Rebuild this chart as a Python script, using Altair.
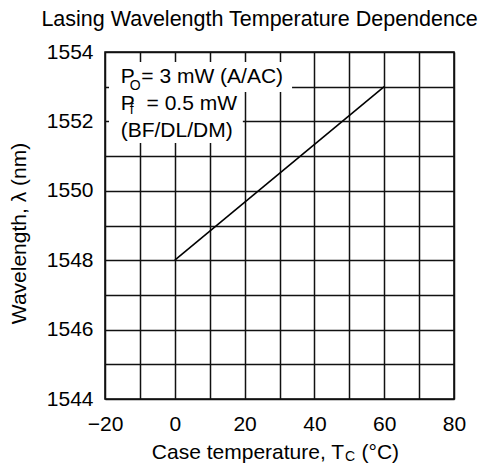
import altair as alt
import pandas as pd

# ---- data ----
temps = [0, 60]
wavelengths = [1548, 1553]

x_grid = [-20, -10, 0, 10, 20, 30, 40, 50, 60, 70, 80]
y_grid = [1544, 1545, 1546, 1547, 1548, 1549, 1550, 1551, 1552, 1553, 1554]

title_text = "Lasing Wavelength Temperature Dependence"
y_title = "Wavelength, λ (nm)"

# annotation block (data coordinates)
ann_text = ["P", "O", "= 3 mW (A/AC)", "P", "f", "= 0.5 mW", "(BF/DL/DM)"]
ann_x = [-15.5, -12.9, -9.6, -15.5, -12.9, -8.1, -15.5]
ann_y = [1553.11, 1552.91, 1553.11, 1552.33, 1552.21, 1552.33, 1551.55]
ann_size = [21, 14, 21, 21, 14, 21, 21]

# white background behind the annotation block
box_x = [-18.85, -18.85]
box_x2 = [33.6, 19.5]
box_y = [1553.71, 1552.85]
box_y2 = [1552.85, 1551.38]

# x-axis title pieces (T with subscript C)
xt_text = ["Case temperature, T", "C", "(°C)"]
xt_x = [48.5, 48.8, 53.5]
xt_y = [1542.27, 1542.20, 1542.27]
xt_size = [21, 14, 21]
xt_align = ["right", "left", "left"]

FONT = "Liberation Sans"

line_df = pd.DataFrame({"x": temps, "y": wavelengths})
ann_df = pd.DataFrame({"x": ann_x, "y": ann_y, "text": ann_text, "size": ann_size})
box_df = pd.DataFrame({"x": box_x, "x2": box_x2, "y": box_y, "y2": box_y2})
xt_df = pd.DataFrame({"x": xt_x, "y": xt_y, "text": xt_text, "size": xt_size, "align": xt_align})

xscale = alt.Scale(domain=[-20, 80], nice=False, zero=False)
yscale = alt.Scale(domain=[1544, 1554], nice=False, zero=False)

x_axis = alt.Axis(
    values=x_grid, labelExpr="datum.value % 20 == 0 ? datum.label : ''",
    grid=True, gridColor="#111111", gridWidth=1.5, gridOpacity=1,
    ticks=False, tickSize=0, domain=False, labelPadding=31, labelBaseline="alphabetic",
    labelFont=FONT, labelFontSize=21, labelColor="black", labelFlush=False,
    labelOverlap=False, title=None,
)
y_axis = alt.Axis(
    values=y_grid, labelExpr="datum.value % 2 == 0 ? datum.label : ''", format="d",
    grid=True, gridColor="#111111", gridWidth=1.5, gridOpacity=1,
    ticks=False, tickSize=0, domain=False, labelPadding=12,
    labelFont=FONT, labelFontSize=21, labelColor="black", labelFlush=False,
    labelOverlap=False,
    title=y_title, titleFont=FONT, titleFontSize=21, titleFontWeight="normal",
    titleColor="black", titleAngle=270, titleBaseline="alphabetic",
    titleX=-80, titleY=181, titleAnchor="middle",
)

X = alt.X("x:Q", scale=xscale, axis=x_axis)
Y = alt.Y("y:Q", scale=yscale, axis=y_axis)

line = alt.Chart(line_df).mark_line(color="black", strokeWidth=1.6).encode(x=X, y=Y)

boxes = alt.Chart(box_df).mark_rect(color="white").encode(x=X, x2="x2:Q", y=Y, y2="y2:Q")

ann = alt.Chart(ann_df).mark_text(align="left", baseline="alphabetic", font=FONT, color="black").encode(
    x=X, y=Y, text="text:N", size=alt.Size("size:Q", scale=None, legend=None)
)

xt_left = alt.Chart(xt_df).transform_filter("datum.align == 'left'").mark_text(
    align="left", baseline="alphabetic", font=FONT, color="black"
).encode(x=X, y=Y, text="text:N", size=alt.Size("size:Q", scale=None, legend=None))

xt_right = alt.Chart(xt_df).transform_filter("datum.align == 'right'").mark_text(
    align="right", baseline="alphabetic", font=FONT, color="black"
).encode(x=X, y=Y, text="text:N", size=alt.Size("size:Q", scale=None, legend=None))

chart = alt.layer(line, boxes, ann, xt_left, xt_right).properties(
    width=349, height=347,
    autosize=alt.AutoSizeParams(type="none"),
    padding={"left": 97, "top": 44, "right": 29, "bottom": 64},
    title=alt.TitleParams(
        title_text, font=FONT, fontSize=21.5, fontWeight="normal", color="black",
        anchor="middle", offset=11, dx=-20,
    ),
).configure_view(stroke="black", strokeWidth=1.5)

chart.save("out.html", embed_options={"renderer": "svg", "actions": False})
